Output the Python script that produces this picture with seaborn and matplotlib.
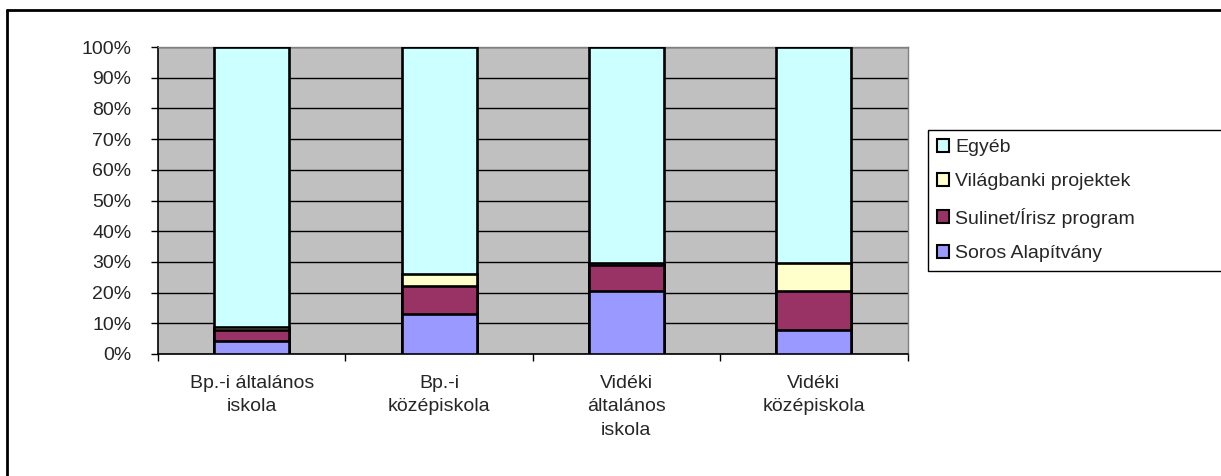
import numpy as np
import matplotlib.pyplot as plt
import seaborn as sns
from matplotlib.ticker import PercentFormatter, FixedLocator
from matplotlib.lines import Line2D

# data (percent of each school group)
categories = ["Bp.-i általános\niskola", "Bp.-i\nközépiskola",
              "Vidéki\náltalános\niskola", "Vidéki\nközépiskola"]
soros = [4.3, 12.9, 20.6, 7.8]
sulinet = [3.4, 9.2, 8.4, 12.6]
vilagbanki = [1.2, 4.1, 0.8, 9.3]
egyeb = [91.1, 73.8, 70.2, 70.3]

series_names = ["Soros Alapítvány", "Sulinet/Írisz program",
                "Világbanki projektek", "Egyéb"]
series_colors = ["#9999FF", "#993366", "#FFFFCC", "#CCFFFF"]

sns.set_style("white")
plt.rcParams['font.family'] = ['Liberation Sans', 'DejaVu Sans']
FS = 14

W, H = 1221, 476
fig = plt.figure(figsize=(W / 100, H / 100), dpi=100)
ax = fig.add_axes([158 / W, 1 - 354 / H, 749.5 / W, 307 / H])
ax.set_facecolor("#C0C0C0")

# stacked bars: draw cumulative totals, tallest first
stack = np.cumsum([soros, sulinet, vilagbanki, egyeb], axis=0)
for i in range(3, -1, -1):
    sns.barplot(x=categories, y=stack[i], color=series_colors[i],
                saturation=1, width=0.4, edgecolor="black", linewidth=1.9,
                label=series_names[i], ax=ax, zorder=3)

ax.set_xlim(-0.5, 3.5)
ax.set_ylim(0, 100)
ax.yaxis.set_major_locator(FixedLocator(np.arange(0, 101, 10)))
ax.yaxis.set_major_formatter(PercentFormatter(decimals=0))
ax.yaxis.grid(True, color="black", lw=1, zorder=1)
ax.set_axisbelow(True)
ax.set_xlabel("")
ax.set_ylabel("")

ax.tick_params(axis="y", direction="out", length=5, width=1, color="black",
               pad=14, labelsize=FS, left=True)
ax.tick_params(axis="x", which="major", length=0, pad=15, labelsize=FS)
ax.xaxis.set_minor_locator(FixedLocator([-0.5, 0.5, 1.5, 2.5, 3.5]))
ax.tick_params(axis="x", which="minor", direction="out", length=5, width=1,
               color="black", bottom=True)
for lab in ax.get_xticklabels():
    lab.set_linespacing(1.5)
    lab.set_va("top")

for side in ["left", "bottom"]:
    ax.spines[side].set_color("black")
    ax.spines[side].set_linewidth(1.2)
for side in ["top", "right"]:
    ax.spines[side].set_color("#808080")
    ax.spines[side].set_linewidth(1)

handles, labels = ax.get_legend_handles_labels()
if ax.legend_:
    ax.legend_.remove()
leg = fig.legend(handles, labels, loc="upper left",
                 bbox_to_anchor=(928 / W, 1 - 273 / H, 300 / W, 143 / H),
                 mode="expand", borderaxespad=0, fancybox=False, framealpha=1,
                 edgecolor="black", fontsize=FS, handlelength=0.65,
                 handleheight=0.65, handletextpad=0.3, labelspacing=0.88,
                 borderpad=0.45)
leg.get_frame().set_linewidth(1)
for h in leg.legend_handles:
    h.set_linewidth(1.5)

# outer chart frame (only top and left edges visible)
fig.add_artist(Line2D([7.5 / W, 1.02], [1 - 10 / H, 1 - 10 / H],
                      transform=fig.transFigure, color="black", lw=2))
fig.add_artist(Line2D([7.5 / W, 7.5 / W], [-0.02, 1 - 10 / H],
                      transform=fig.transFigure, color="black", lw=2))

fig.savefig("out.png", dpi=100)
